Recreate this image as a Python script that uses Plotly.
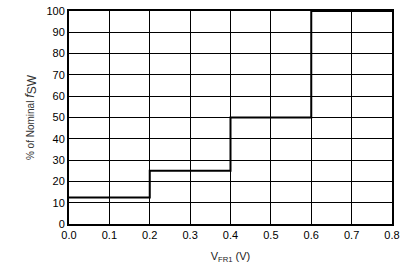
import plotly.graph_objects as go

v_fr1 = [0.0, 0.2, 0.4, 0.6, 0.8]
pct_nominal = [12.5, 25, 50, 100, 100]

fig = go.Figure()
fig.add_trace(go.Scatter(x=v_fr1, y=pct_nominal, mode="lines",
                         line=dict(shape="hv", color="black", width=2),
                         showlegend=False, cliponaxis=True))

font = dict(family="Liberation Sans, Arial, sans-serif", color="black", size=11)
fig.update_layout(
    width=406, height=266,
    margin=dict(l=69, r=14, t=5, b=41),
    paper_bgcolor="white", plot_bgcolor="white",
    font=font,
)
fig.update_xaxes(range=[0, 0.8], dtick=0.1, tickformat=".1f",
                 showgrid=True, gridcolor="black", gridwidth=1,
                 showline=True, linecolor="black", linewidth=2, mirror=True,
                 zeroline=False, ticks="", ticklen=0,
                 title=dict(text="V<sub>FR1</sub> (V)", font=dict(size=11, color="#222"), standoff=12))
fig.update_yaxes(range=[0, 100], dtick=10,
                 showgrid=True, gridcolor="black", gridwidth=1,
                 showline=True, linecolor="black", linewidth=2, mirror=True,
                 zeroline=False, ticks="", ticklen=0,
                 title=dict(text="% of Nominal <i><span style='font-size:13px'>f</span></i><sub><span style='font-size:12px'>SW</span></sub>",
                            font=dict(size=10, color="#333"), standoff=10))
fig.write_html("out.html")
